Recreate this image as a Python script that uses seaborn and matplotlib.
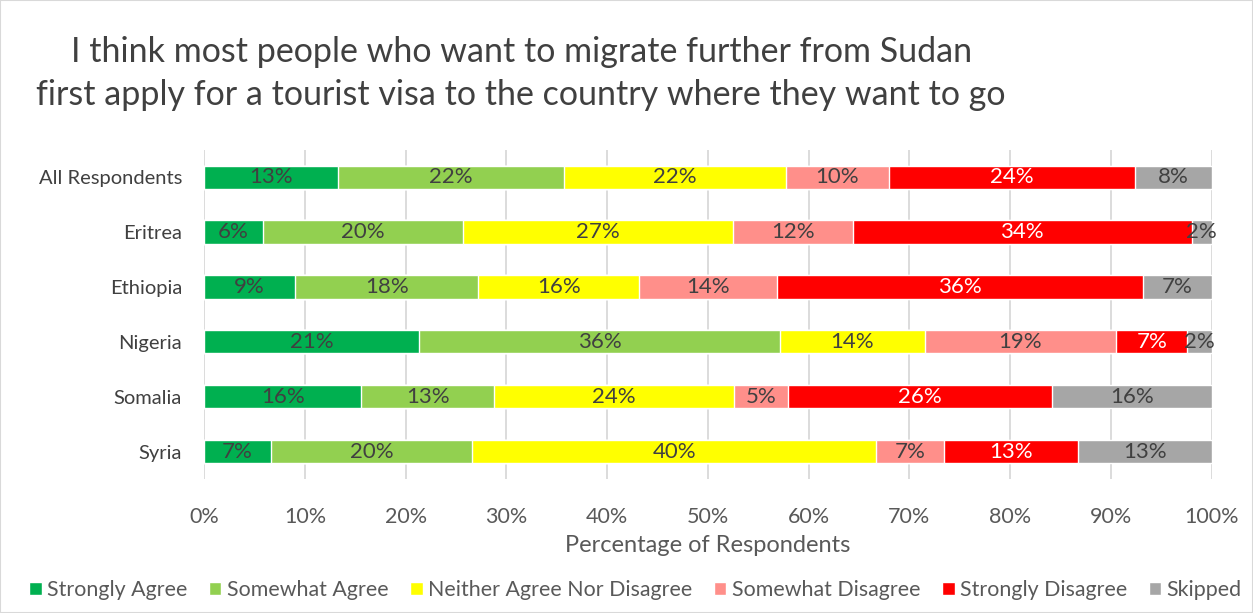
import numpy as np
import pandas as pd
import seaborn as sns
import matplotlib.pyplot as plt
from matplotlib.patches import Patch

countries = ["All Respondents", "Eritrea", "Ethiopia", "Nigeria", "Somalia", "Syria"]
responses = ["Strongly Agree", "Somewhat Agree", "Neither Agree Nor Disagree",
             "Somewhat Disagree", "Strongly Disagree", "Skipped"]

strongly_agree = [13.3, 5.8, 9.0, 21.3, 15.6, 6.6]
somewhat_agree = [22.4, 19.9, 18.2, 35.9, 13.2, 20.0]
neither = [22.0, 26.8, 16.0, 14.3, 23.8, 40.1]
somewhat_disagree = [10.3, 11.9, 13.7, 19.0, 5.3, 6.7]
strongly_disagree = [24.4, 33.6, 36.3, 7.1, 26.3, 13.3]
skipped = [7.6, 2.0, 6.8, 2.4, 15.8, 13.3]

colors = ["#00B050", "#92D050", "#FFFF00", "#FF8F8A", "#FF0000", "#A6A6A6"]
label_colors = ["#404040", "#404040", "#404040", "#404040", "white", "#404040"]

df = pd.DataFrame(
    np.column_stack([strongly_agree, somewhat_agree, neither,
                     somewhat_disagree, strongly_disagree, skipped]),
    index=countries, columns=responses)
cum = df.cumsum(axis=1)

sns.set_style("white")
plt.rcParams["font.family"] = ["Lato", "DejaVu Sans"]

fig = plt.figure(figsize=(12.53, 6.13), dpi=100)
ax = fig.add_axes([0.163, 0.218, 0.804, 0.538])

# stacked bars: draw cumulative totals from the back to the front
for i in range(len(responses) - 1, -1, -1):
    sns.barplot(x=cum.iloc[:, i].values, y=countries, color=colors[i],
                orient="h", width=0.42, saturation=1, ax=ax, zorder=2)

for i, resp in enumerate(responses):
    for j, c in enumerate(countries):
        v = df.loc[c, resp]
        centre = cum.loc[c, resp] - v / 2
        ax.text(centre, j, f"{v:.0f}%", ha="center", va="center",
                fontsize=16, color=label_colors[i], zorder=3)

ax.set_xlim(0, 100)
ax.set_xticks(np.arange(0, 101, 10))
ax.set_xticklabels([f"{t}%" for t in range(0, 101, 10)], fontsize=15.5, color="#595959")
ax.tick_params(axis="y", labelsize=14.5, labelcolor="#404040", length=0, pad=16)
ax.tick_params(axis="x", length=0, pad=20)
ax.grid(axis="x", color="#D9D9D9", linewidth=1.3, zorder=0)
ax.set_axisbelow(True)
for s in ax.spines.values():
    s.set_visible(False)
ax.set_xlabel("Percentage of Respondents", fontsize=17, color="#595959", labelpad=6)
ax.set_ylabel("")

fig.text(0.416, 0.88,
         "I think most people who want to migrate further from Sudan\n"
         "first apply for a tourist visa to the country where they want to go",
         ha="center", va="center", fontsize=24.5, color="#404040", linespacing=1.42)

handles = [Patch(facecolor=col, label=r) for col, r in zip(colors, responses)]
fig.legend(handles=handles, loc="lower center", bbox_to_anchor=(0.507, -0.01), ncol=6,
           frameon=False, fontsize=15.4, handlelength=0.6, handleheight=0.6,
           handletextpad=0.25, columnspacing=1.0, labelcolor="#595959")

fig.patches.append(plt.Rectangle((0, 0), 1, 1, transform=fig.transFigure,
                                 fill=False, edgecolor="#D9D9D9", linewidth=1.5))

fig.savefig("out.png", dpi=100)
